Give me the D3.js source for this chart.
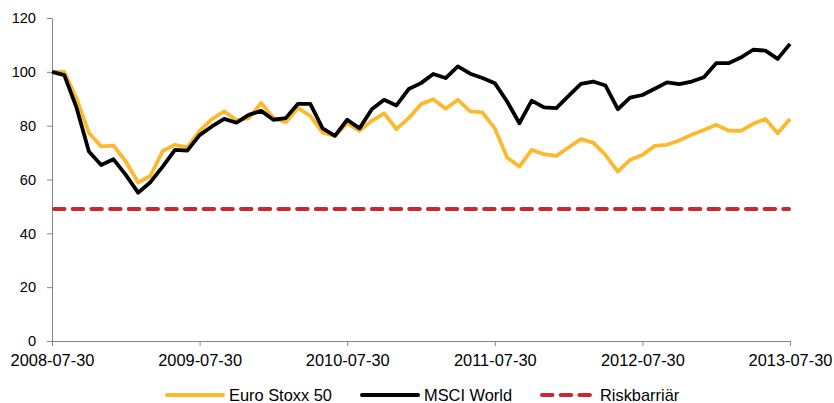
<!DOCTYPE html>
<html lang="en">
<head>
<meta charset="UTF-8">
<title>Euro Stoxx 50 vs MSCI World</title>
<script src="https://d3js.org/d3.v7.min.js"></script>
<style>
  body { margin: 0; background: #fff; }
  text { font-family: "Liberation Sans", Arial, sans-serif; fill: #000; }
</style>
</head>
<body>
<svg id="chart"></svg>
<script>
// monthly observations, 2008-07-30 .. 2013-07-30
const euroStoxx = [100, 100, 90, 77.3, 72.3, 72.6, 66.7, 58.9, 61.3, 70.6, 72.9, 71.9, 78.1, 82.4, 85.3, 82, 82.8, 88.4, 82.8, 81.3,
  86.6, 83.6, 77.4, 76.2, 80.9, 78.1, 81.8, 84.6, 78.7, 82.8, 88, 89.8, 86.3, 89.6, 85.3, 84.9, 79, 68.2, 64.8, 71,
  69.4, 68.8, 71.9, 75, 73.7, 69.1, 62.9, 67.3, 69.1, 72.5, 72.9, 74.5, 76.6, 78.4, 80.3, 78.2, 78.1, 80.7, 82.5, 77.2, 82.5];
const msciWorld = [100, 98.8, 86.6, 70.4, 65.4, 67.5, 61.7, 55.1, 59, 64.8, 71, 70.7, 76.5, 79.7, 82.5, 81.1, 84, 85.5, 82.2, 82.8,
  88.1, 88.1, 79, 76.2, 82.2, 79, 86.1, 89.6, 87.5, 93.6, 95.8, 99.2, 97.7, 102, 99.3, 97.7, 95.8, 89, 80.9, 89.3,
  86.8, 86.5, 91.1, 95.5, 96.4, 94.9, 86.1, 90.4, 91.4, 93.7, 96.1, 95.4, 96.4, 98, 103.2, 103.2, 105.3, 108.2, 107.9, 104.8, 110.4];
const riskBarrier = 49;
const tickLabels = ["2008-07-30", "2009-07-30", "2010-07-30", "2011-07-30", "2012-07-30", "2013-07-30"];
const yTicks = [0, 20, 40, 60, 80, 100, 120];

const width = 834, height = 403;
const margin = { top: 18, right: 44, bottom: 62, left: 52 };

const svg = d3.select("#chart").attr("width", width).attr("height", height);

const x = d3.scaleLinear().domain([0, euroStoxx.length - 1]).range([margin.left, width - margin.right]);
const y = d3.scaleLinear().domain([0, 120]).range([height - margin.bottom, margin.top]);

// axes
const xAxis = svg.append("g")
  .attr("transform", `translate(0,${height - margin.bottom})`)
  .call(d3.axisBottom(x).tickValues(tickLabels.map((d, i) => i * 12))
    .tickFormat((d, i) => tickLabels[i]).tickSize(5).tickSizeOuter(0));
xAxis.select(".domain").attr("stroke", "#868686");
xAxis.selectAll(".tick line").attr("stroke", "#868686");
xAxis.selectAll("text").attr("y", 13).attr("dy", "0.71em")
  .style("font-size", "16.4px").style("font-family", "Liberation Sans, Arial, sans-serif");

const yAxis = svg.append("g")
  .attr("transform", `translate(${margin.left},0)`)
  .call(d3.axisLeft(y).tickValues(yTicks).tickSize(5).tickSizeOuter(0));
yAxis.select(".domain").attr("stroke", "#868686");
yAxis.selectAll(".tick line").attr("stroke", "#868686");
yAxis.selectAll("text").attr("x", -16)
  .style("font-size", "14.6px").style("font-family", "Liberation Sans, Arial, sans-serif");

// series
const line = d3.line().x((d, i) => x(i)).y(d => y(d));

svg.append("line")
  .attr("x1", x(0) + 2).attr("x2", x(euroStoxx.length - 1) - 1)
  .attr("y1", y(riskBarrier)).attr("y2", y(riskBarrier))
  .attr("stroke", "#C8282F").attr("stroke-width", 4)
  .attr("stroke-linecap", "round").attr("stroke-dasharray", "10.5,8.2");

svg.append("path").datum(euroStoxx)
  .attr("d", line).attr("fill", "none")
  .attr("stroke", "#FDB92D").attr("stroke-width", 3.8).attr("stroke-linejoin", "round");

svg.append("path").datum(msciWorld)
  .attr("d", line).attr("fill", "none")
  .attr("stroke", "#000").attr("stroke-width", 3.8).attr("stroke-linejoin", "round");

// legend
const legendItems = [
  { name: "Euro Stoxx 50", color: "#FDB92D", dash: null, x: 167, len: 56 },
  { name: "MSCI World", color: "#000", dash: null, x: 362, len: 56 },
  { name: "Riskbarriär", color: "#C8282F", dash: "10.5,8.2", x: 542, len: 48 }
];
const lg = svg.append("g").attr("transform", "translate(0,395)");
legendItems.forEach(item => {
  lg.append("line").attr("x1", item.x).attr("x2", item.x + item.len)
    .attr("stroke", item.color).attr("stroke-width", 4)
    .attr("stroke-linecap", "round")
    .attr("stroke-dasharray", item.dash);
  lg.append("text").attr("x", item.x + item.len + (item.dash ? 10 : 6)).attr("dy", "0.35em")
    .style("font-size", "16.4px").text(item.name);
});
</script>
</body>
</html>
